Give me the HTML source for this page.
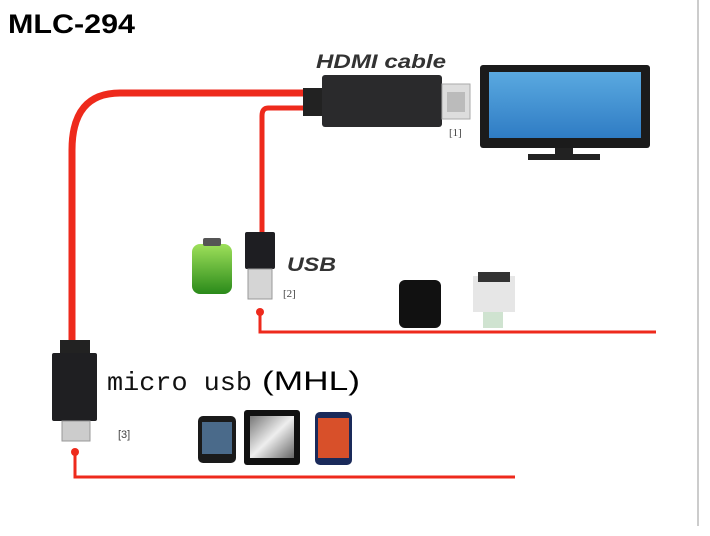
<!DOCTYPE html>
<html><head><style>
html,body{margin:0;padding:0;background:#fff;width:710px;height:536px;overflow:hidden}
</style></head><body>
<svg width="710" height="536" xmlns="http://www.w3.org/2000/svg">
<defs>
<linearGradient id="scr" x1="0" y1="0" x2="0" y2="1"><stop offset="0" stop-color="#5aa9e0"/><stop offset="1" stop-color="#2f7cc4"/></linearGradient>
<linearGradient id="tab" x1="0" y1="0" x2="1" y2="1"><stop offset="0" stop-color="#777"/><stop offset="0.5" stop-color="#eee"/><stop offset="1" stop-color="#666"/></linearGradient>
<linearGradient id="bat" x1="0" y1="0" x2="0" y2="1"><stop offset="0" stop-color="#9ee05a"/><stop offset="1" stop-color="#2a8a1a"/></linearGradient>
</defs>
<rect x="697" y="0" width="2" height="526" fill="#ccc"/>
<text x="8" y="33" font-family="Liberation Sans, sans-serif" font-weight="bold" font-size="27" textLength="127" lengthAdjust="spacingAndGlyphs" fill="#000">MLC-294</text>
<path d="M305,93 L120,93 Q72,93 72,150 L72,342" fill="none" stroke="#ee2a1c" stroke-width="7"/>
<path d="M305,108 L268,108 Q262,108 262,116 L262,235" fill="none" stroke="#ee2a1c" stroke-width="5"/>
<path d="M260,312 L260,332 L656,332" fill="none" stroke="#ee2a1c" stroke-width="3"/>
<circle cx="260" cy="312" r="4" fill="#ee2a1c"/>
<path d="M75,452 L75,477 L515,477" fill="none" stroke="#ee2a1c" stroke-width="3"/>
<circle cx="75" cy="452" r="4" fill="#ee2a1c"/>
<text x="316" y="68" font-family="Liberation Sans, sans-serif" font-style="italic" font-weight="bold" font-size="19" textLength="130" lengthAdjust="spacingAndGlyphs" fill="#333">HDMI cable</text>
<rect x="303" y="88" width="24" height="28" fill="#222"/>
<rect x="322" y="75" width="120" height="52" rx="3" fill="#2a2a2c"/>
<rect x="442" y="84" width="28" height="35" fill="#ddd" stroke="#aaa"/>
<rect x="447" y="92" width="18" height="20" fill="#bbb"/>
<text x="449" y="136" font-family="Liberation Serif, serif" font-size="11" fill="#444">[1]</text>
<rect x="480" y="65" width="170" height="83" rx="3" fill="#1b1b1b"/>
<rect x="489" y="72" width="152" height="66" fill="url(#scr)"/>
<rect x="555" y="148" width="18" height="6" fill="#222"/>
<rect x="528" y="154" width="72" height="6" fill="#222"/>
<rect x="245" y="232" width="30" height="37" rx="2" fill="#1e1e22"/>
<rect x="248" y="269" width="24" height="30" fill="#d5d5d5" stroke="#999"/>
<text x="287" y="271" font-family="Liberation Sans, sans-serif" font-style="italic" font-weight="bold" font-size="19" textLength="49" lengthAdjust="spacingAndGlyphs" fill="#333">USB</text>
<text x="283" y="297" font-family="Liberation Serif, serif" font-size="11" fill="#444">[2]</text>
<rect x="192" y="244" width="40" height="50" rx="8" fill="url(#bat)"/>
<rect x="203" y="238" width="18" height="8" rx="2" fill="#555"/>
<rect x="399" y="280" width="42" height="48" rx="6" fill="#111"/>
<rect x="473" y="276" width="42" height="36" fill="#e6e6e6"/>
<rect x="478" y="272" width="32" height="10" fill="#333"/>
<rect x="483" y="312" width="20" height="16" fill="#cfe3d0"/>
<rect x="60" y="340" width="30" height="16" fill="#222"/>
<rect x="52" y="353" width="45" height="68" rx="2" fill="#1f1f22"/>
<rect x="62" y="421" width="28" height="20" fill="#ccc" stroke="#999"/>
<text x="107" y="390" font-family="Liberation Mono, monospace" font-size="26" textLength="145" lengthAdjust="spacingAndGlyphs" fill="#111">micro usb</text>
<text x="262" y="390" font-family="Liberation Sans, sans-serif" font-size="27" textLength="98" lengthAdjust="spacingAndGlyphs" fill="#000">(MHL)</text>
<text x="118" y="438" font-family="Liberation Sans, sans-serif" font-size="11" fill="#444">[3]</text>
<rect x="198" y="416" width="38" height="47" rx="5" fill="#1a1a1a"/>
<rect x="202" y="422" width="30" height="32" fill="#4a6a8a"/>
<rect x="244" y="410" width="56" height="55" rx="3" fill="#111"/>
<rect x="250" y="416" width="44" height="42" fill="url(#tab)"/>
<rect x="315" y="412" width="37" height="53" rx="5" fill="#1a2a5a"/>
<rect x="318" y="418" width="31" height="40" fill="#d8502a"/>
</svg>
</body></html>
